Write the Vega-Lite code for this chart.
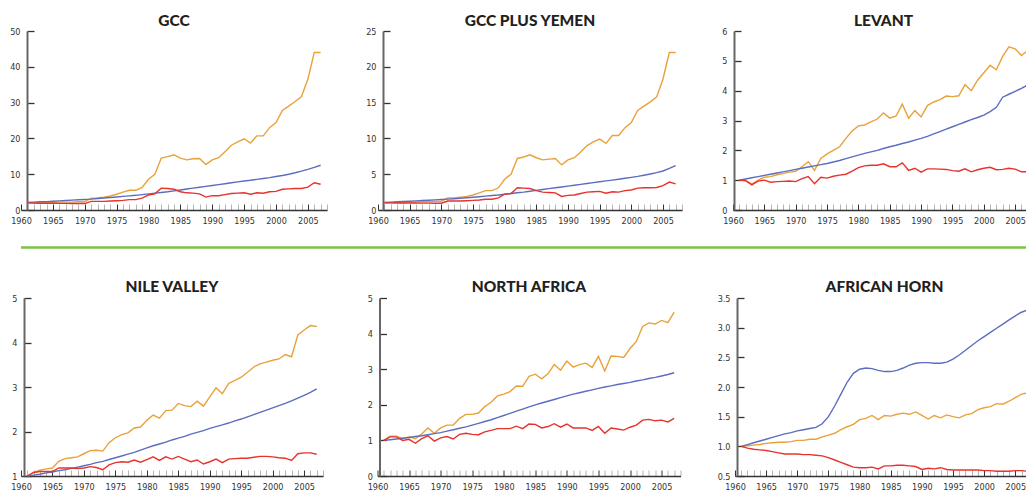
{
  "$schema": "https://vega.github.io/schema/vega-lite/v6.json",
  "background": "white",
  "padding": {"left": 9, "top": 13, "right": 0, "bottom": 0},
  "config": {
    "view": {"stroke": null},
    "title": {"font": "Lato", "fontWeight": 900, "fontSize": 15.5, "color": "#231f20", "anchor": "middle"},
    "axisX": {"grid": false, "tickSize": -6, "labelPadding": 12, "labelFlush": false, "labelOverlap": false, "domainColor": "#333333", "domainWidth": 1.5, "labelFont": "Liberation Sans Narrow, DejaVu Sans Condensed, sans-serif", "labelFontSize": 9, "labelColor": "#333333", "tickWidth": 1},
    "axisY": {"grid": false, "tickSize": -7, "labelPadding": 14, "labelFlush": false, "labelOverlap": false, "domainColor": "#666666", "domainWidth": 2, "tickColor": "#333333", "tickWidth": 1.3, "labelFont": "Liberation Sans Narrow, DejaVu Sans Condensed, sans-serif", "labelFontSize": 9, "labelColor": "#333333"}
  },
  "datasets": {
    "d": [
      {"region":"GCC","year":1961,"orange":2.0,"blue":2.1,"red":2.0},
      {"region":"GCC","year":1962,"orange":2.0,"blue":2.2,"red":1.95},
      {"region":"GCC","year":1963,"orange":2.0,"blue":2.3,"red":1.9},
      {"region":"GCC","year":1964,"orange":2.1,"blue":2.35,"red":1.9},
      {"region":"GCC","year":1965,"orange":2.1,"blue":2.45,"red":1.9},
      {"region":"GCC","year":1966,"orange":2.2,"blue":2.55,"red":1.85},
      {"region":"GCC","year":1967,"orange":2.2,"blue":2.65,"red":1.85},
      {"region":"GCC","year":1968,"orange":2.2,"blue":2.75,"red":1.8},
      {"region":"GCC","year":1969,"orange":2.3,"blue":2.85,"red":1.8},
      {"region":"GCC","year":1970,"orange":2.3,"blue":2.95,"red":1.8},
      {"region":"GCC","year":1971,"orange":3.3,"blue":3.05,"red":2.4},
      {"region":"GCC","year":1972,"orange":3.4,"blue":3.2,"red":2.4},
      {"region":"GCC","year":1973,"orange":3.6,"blue":3.35,"red":2.4},
      {"region":"GCC","year":1974,"orange":3.9,"blue":3.5,"red":2.5},
      {"region":"GCC","year":1975,"orange":4.4,"blue":3.65,"red":2.6},
      {"region":"GCC","year":1976,"orange":5.0,"blue":3.8,"red":2.7},
      {"region":"GCC","year":1977,"orange":5.5,"blue":3.95,"red":2.9},
      {"region":"GCC","year":1978,"orange":5.5,"blue":4.1,"red":2.9},
      {"region":"GCC","year":1979,"orange":6.3,"blue":4.3,"red":3.3},
      {"region":"GCC","year":1980,"orange":8.6,"blue":4.5,"red":4.2},
      {"region":"GCC","year":1981,"orange":10.0,"blue":4.7,"red":4.5},
      {"region":"GCC","year":1982,"orange":14.5,"blue":4.9,"red":6.1},
      {"region":"GCC","year":1983,"orange":14.9,"blue":5.1,"red":6.0},
      {"region":"GCC","year":1984,"orange":15.4,"blue":5.35,"red":5.8},
      {"region":"GCC","year":1985,"orange":14.5,"blue":5.6,"red":5.1},
      {"region":"GCC","year":1986,"orange":14.0,"blue":5.85,"red":4.8},
      {"region":"GCC","year":1987,"orange":14.3,"blue":6.1,"red":4.7},
      {"region":"GCC","year":1988,"orange":14.4,"blue":6.35,"red":4.5},
      {"region":"GCC","year":1989,"orange":12.7,"blue":6.6,"red":3.6},
      {"region":"GCC","year":1990,"orange":14.0,"blue":6.85,"red":4.0},
      {"region":"GCC","year":1991,"orange":14.6,"blue":7.1,"red":4.0},
      {"region":"GCC","year":1992,"orange":16.3,"blue":7.35,"red":4.3},
      {"region":"GCC","year":1993,"orange":18.1,"blue":7.6,"red":4.6},
      {"region":"GCC","year":1994,"orange":19.0,"blue":7.85,"red":4.7},
      {"region":"GCC","year":1995,"orange":19.9,"blue":8.1,"red":4.8},
      {"region":"GCC","year":1996,"orange":18.7,"blue":8.3,"red":4.4},
      {"region":"GCC","year":1997,"orange":20.7,"blue":8.55,"red":4.8},
      {"region":"GCC","year":1998,"orange":20.7,"blue":8.8,"red":4.7},
      {"region":"GCC","year":1999,"orange":23.0,"blue":9.05,"red":5.1},
      {"region":"GCC","year":2000,"orange":24.4,"blue":9.35,"red":5.2},
      {"region":"GCC","year":2001,"orange":27.8,"blue":9.65,"red":5.8},
      {"region":"GCC","year":2002,"orange":29.0,"blue":10.0,"red":5.9},
      {"region":"GCC","year":2003,"orange":30.3,"blue":10.4,"red":6.0},
      {"region":"GCC","year":2004,"orange":31.7,"blue":10.85,"red":6.0},
      {"region":"GCC","year":2005,"orange":36.5,"blue":11.35,"red":6.4},
      {"region":"GCC","year":2006,"orange":44.0,"blue":11.9,"red":7.6},
      {"region":"GCC","year":2007,"orange":44.0,"blue":12.5,"red":7.2},

      {"region":"GCCY","year":1961,"orange":1.0,"blue":1.05,"red":1.0},
      {"region":"GCCY","year":1962,"orange":1.0,"blue":1.1,"red":1.0},
      {"region":"GCCY","year":1963,"orange":1.05,"blue":1.15,"red":0.98},
      {"region":"GCCY","year":1964,"orange":1.05,"blue":1.18,"red":0.98},
      {"region":"GCCY","year":1965,"orange":1.1,"blue":1.22,"red":0.97},
      {"region":"GCCY","year":1966,"orange":1.1,"blue":1.27,"red":0.97},
      {"region":"GCCY","year":1967,"orange":1.15,"blue":1.32,"red":0.96},
      {"region":"GCCY","year":1968,"orange":1.15,"blue":1.37,"red":0.96},
      {"region":"GCCY","year":1969,"orange":1.2,"blue":1.42,"red":0.95},
      {"region":"GCCY","year":1970,"orange":1.2,"blue":1.47,"red":0.95},
      {"region":"GCCY","year":1971,"orange":1.7,"blue":1.52,"red":1.25},
      {"region":"GCCY","year":1972,"orange":1.7,"blue":1.58,"red":1.25},
      {"region":"GCCY","year":1973,"orange":1.8,"blue":1.65,"red":1.25},
      {"region":"GCCY","year":1974,"orange":1.9,"blue":1.72,"red":1.3},
      {"region":"GCCY","year":1975,"orange":2.1,"blue":1.79,"red":1.35},
      {"region":"GCCY","year":1976,"orange":2.4,"blue":1.86,"red":1.4},
      {"region":"GCCY","year":1977,"orange":2.7,"blue":1.94,"red":1.5},
      {"region":"GCCY","year":1978,"orange":2.7,"blue":2.02,"red":1.5},
      {"region":"GCCY","year":1979,"orange":3.1,"blue":2.1,"red":1.7},
      {"region":"GCCY","year":1980,"orange":4.3,"blue":2.2,"red":2.2},
      {"region":"GCCY","year":1981,"orange":5.0,"blue":2.3,"red":2.3},
      {"region":"GCCY","year":1982,"orange":7.2,"blue":2.4,"red":3.1},
      {"region":"GCCY","year":1983,"orange":7.4,"blue":2.5,"red":3.05},
      {"region":"GCCY","year":1984,"orange":7.7,"blue":2.62,"red":3.0},
      {"region":"GCCY","year":1985,"orange":7.3,"blue":2.74,"red":2.7},
      {"region":"GCCY","year":1986,"orange":7.0,"blue":2.86,"red":2.5},
      {"region":"GCCY","year":1987,"orange":7.1,"blue":2.98,"red":2.45},
      {"region":"GCCY","year":1988,"orange":7.2,"blue":3.1,"red":2.4},
      {"region":"GCCY","year":1989,"orange":6.3,"blue":3.22,"red":1.9},
      {"region":"GCCY","year":1990,"orange":7.0,"blue":3.34,"red":2.05},
      {"region":"GCCY","year":1991,"orange":7.3,"blue":3.46,"red":2.1},
      {"region":"GCCY","year":1992,"orange":8.1,"blue":3.58,"red":2.3},
      {"region":"GCCY","year":1993,"orange":9.0,"blue":3.7,"red":2.5},
      {"region":"GCCY","year":1994,"orange":9.5,"blue":3.82,"red":2.55},
      {"region":"GCCY","year":1995,"orange":9.9,"blue":3.94,"red":2.6},
      {"region":"GCCY","year":1996,"orange":9.3,"blue":4.06,"red":2.35},
      {"region":"GCCY","year":1997,"orange":10.4,"blue":4.18,"red":2.55},
      {"region":"GCCY","year":1998,"orange":10.4,"blue":4.3,"red":2.5},
      {"region":"GCCY","year":1999,"orange":11.5,"blue":4.43,"red":2.7},
      {"region":"GCCY","year":2000,"orange":12.2,"blue":4.56,"red":2.8},
      {"region":"GCCY","year":2001,"orange":13.9,"blue":4.7,"red":3.05},
      {"region":"GCCY","year":2002,"orange":14.5,"blue":4.86,"red":3.1},
      {"region":"GCCY","year":2003,"orange":15.1,"blue":5.03,"red":3.1},
      {"region":"GCCY","year":2004,"orange":15.8,"blue":5.22,"red":3.15},
      {"region":"GCCY","year":2005,"orange":18.3,"blue":5.45,"red":3.4},
      {"region":"GCCY","year":2006,"orange":22.0,"blue":5.8,"red":3.9},
      {"region":"GCCY","year":2007,"orange":22.0,"blue":6.2,"red":3.65},

      {"region":"LEV","year":1961,"orange":1.0,"blue":1.0,"red":1.0},
      {"region":"LEV","year":1962,"orange":1.0,"blue":1.04,"red":0.98},
      {"region":"LEV","year":1963,"orange":0.87,"blue":1.08,"red":0.84},
      {"region":"LEV","year":1964,"orange":1.0,"blue":1.12,"red":0.97},
      {"region":"LEV","year":1965,"orange":1.1,"blue":1.16,"red":1.0},
      {"region":"LEV","year":1966,"orange":1.12,"blue":1.2,"red":0.93},
      {"region":"LEV","year":1967,"orange":1.18,"blue":1.24,"red":0.95},
      {"region":"LEV","year":1968,"orange":1.22,"blue":1.28,"red":0.96},
      {"region":"LEV","year":1969,"orange":1.27,"blue":1.32,"red":0.97},
      {"region":"LEV","year":1970,"orange":1.3,"blue":1.36,"red":0.95},
      {"region":"LEV","year":1971,"orange":1.45,"blue":1.4,"red":1.05},
      {"region":"LEV","year":1972,"orange":1.62,"blue":1.44,"red":1.12},
      {"region":"LEV","year":1973,"orange":1.33,"blue":1.48,"red":0.88},
      {"region":"LEV","year":1974,"orange":1.73,"blue":1.52,"red":1.1},
      {"region":"LEV","year":1975,"orange":1.88,"blue":1.56,"red":1.07},
      {"region":"LEV","year":1976,"orange":2.0,"blue":1.61,"red":1.13},
      {"region":"LEV","year":1977,"orange":2.12,"blue":1.66,"red":1.17},
      {"region":"LEV","year":1978,"orange":2.4,"blue":1.72,"red":1.2},
      {"region":"LEV","year":1979,"orange":2.65,"blue":1.78,"red":1.3},
      {"region":"LEV","year":1980,"orange":2.82,"blue":1.84,"red":1.42},
      {"region":"LEV","year":1981,"orange":2.85,"blue":1.9,"red":1.48},
      {"region":"LEV","year":1982,"orange":2.95,"blue":1.95,"red":1.5},
      {"region":"LEV","year":1983,"orange":3.05,"blue":2.0,"red":1.5},
      {"region":"LEV","year":1984,"orange":3.25,"blue":2.06,"red":1.55},
      {"region":"LEV","year":1985,"orange":3.08,"blue":2.12,"red":1.45},
      {"region":"LEV","year":1986,"orange":3.15,"blue":2.17,"red":1.45},
      {"region":"LEV","year":1987,"orange":3.55,"blue":2.23,"red":1.58},
      {"region":"LEV","year":1988,"orange":3.08,"blue":2.28,"red":1.33},
      {"region":"LEV","year":1989,"orange":3.33,"blue":2.34,"red":1.4},
      {"region":"LEV","year":1990,"orange":3.12,"blue":2.4,"red":1.27},
      {"region":"LEV","year":1991,"orange":3.5,"blue":2.47,"red":1.38},
      {"region":"LEV","year":1992,"orange":3.62,"blue":2.55,"red":1.38},
      {"region":"LEV","year":1993,"orange":3.7,"blue":2.63,"red":1.37},
      {"region":"LEV","year":1994,"orange":3.82,"blue":2.71,"red":1.36},
      {"region":"LEV","year":1995,"orange":3.8,"blue":2.79,"red":1.32},
      {"region":"LEV","year":1996,"orange":3.83,"blue":2.87,"red":1.3},
      {"region":"LEV","year":1997,"orange":4.2,"blue":2.95,"red":1.38},
      {"region":"LEV","year":1998,"orange":4.0,"blue":3.03,"red":1.28},
      {"region":"LEV","year":1999,"orange":4.35,"blue":3.1,"red":1.35},
      {"region":"LEV","year":2000,"orange":4.6,"blue":3.18,"red":1.4},
      {"region":"LEV","year":2001,"orange":4.85,"blue":3.3,"red":1.43},
      {"region":"LEV","year":2002,"orange":4.7,"blue":3.44,"red":1.35},
      {"region":"LEV","year":2003,"orange":5.15,"blue":3.78,"red":1.36},
      {"region":"LEV","year":2004,"orange":5.47,"blue":3.88,"red":1.4},
      {"region":"LEV","year":2005,"orange":5.4,"blue":3.98,"red":1.37},
      {"region":"LEV","year":2006,"orange":5.18,"blue":4.08,"red":1.28},
      {"region":"LEV","year":2007,"orange":5.35,"blue":4.19,"red":1.28},

      {"region":"NILE","year":1961,"orange":1.0,"blue":1.0,"red":1.0},
      {"region":"NILE","year":1962,"orange":1.08,"blue":1.02,"red":1.08},
      {"region":"NILE","year":1963,"orange":1.13,"blue":1.04,"red":1.1},
      {"region":"NILE","year":1964,"orange":1.16,"blue":1.07,"red":1.1},
      {"region":"NILE","year":1965,"orange":1.18,"blue":1.09,"red":1.1},
      {"region":"NILE","year":1966,"orange":1.33,"blue":1.12,"red":1.18},
      {"region":"NILE","year":1967,"orange":1.39,"blue":1.14,"red":1.18},
      {"region":"NILE","year":1968,"orange":1.41,"blue":1.17,"red":1.18},
      {"region":"NILE","year":1969,"orange":1.43,"blue":1.2,"red":1.17},
      {"region":"NILE","year":1970,"orange":1.5,"blue":1.23,"red":1.18},
      {"region":"NILE","year":1971,"orange":1.57,"blue":1.26,"red":1.21},
      {"region":"NILE","year":1972,"orange":1.58,"blue":1.3,"red":1.19},
      {"region":"NILE","year":1973,"orange":1.56,"blue":1.33,"red":1.14},
      {"region":"NILE","year":1974,"orange":1.75,"blue":1.37,"red":1.25},
      {"region":"NILE","year":1975,"orange":1.86,"blue":1.41,"red":1.3},
      {"region":"NILE","year":1976,"orange":1.93,"blue":1.45,"red":1.32},
      {"region":"NILE","year":1977,"orange":1.97,"blue":1.49,"red":1.31},
      {"region":"NILE","year":1978,"orange":2.08,"blue":1.53,"red":1.36},
      {"region":"NILE","year":1979,"orange":2.1,"blue":1.58,"red":1.31},
      {"region":"NILE","year":1980,"orange":2.25,"blue":1.63,"red":1.37},
      {"region":"NILE","year":1981,"orange":2.37,"blue":1.68,"red":1.43},
      {"region":"NILE","year":1982,"orange":2.3,"blue":1.72,"red":1.35},
      {"region":"NILE","year":1983,"orange":2.47,"blue":1.76,"red":1.43},
      {"region":"NILE","year":1984,"orange":2.48,"blue":1.81,"red":1.38},
      {"region":"NILE","year":1985,"orange":2.63,"blue":1.85,"red":1.44},
      {"region":"NILE","year":1986,"orange":2.58,"blue":1.89,"red":1.38},
      {"region":"NILE","year":1987,"orange":2.56,"blue":1.94,"red":1.32},
      {"region":"NILE","year":1988,"orange":2.68,"blue":1.98,"red":1.36},
      {"region":"NILE","year":1989,"orange":2.57,"blue":2.02,"red":1.27},
      {"region":"NILE","year":1990,"orange":2.78,"blue":2.07,"red":1.32},
      {"region":"NILE","year":1991,"orange":2.98,"blue":2.11,"red":1.38},
      {"region":"NILE","year":1992,"orange":2.85,"blue":2.15,"red":1.3},
      {"region":"NILE","year":1993,"orange":3.08,"blue":2.19,"red":1.38},
      {"region":"NILE","year":1994,"orange":3.15,"blue":2.24,"red":1.39},
      {"region":"NILE","year":1995,"orange":3.22,"blue":2.28,"red":1.4},
      {"region":"NILE","year":1996,"orange":3.33,"blue":2.33,"red":1.4},
      {"region":"NILE","year":1997,"orange":3.45,"blue":2.38,"red":1.42},
      {"region":"NILE","year":1998,"orange":3.52,"blue":2.43,"red":1.44},
      {"region":"NILE","year":1999,"orange":3.56,"blue":2.48,"red":1.44},
      {"region":"NILE","year":2000,"orange":3.6,"blue":2.53,"red":1.43},
      {"region":"NILE","year":2001,"orange":3.63,"blue":2.58,"red":1.41},
      {"region":"NILE","year":2002,"orange":3.73,"blue":2.63,"red":1.4},
      {"region":"NILE","year":2003,"orange":3.68,"blue":2.69,"red":1.35},
      {"region":"NILE","year":2004,"orange":4.17,"blue":2.75,"red":1.5},
      {"region":"NILE","year":2005,"orange":4.28,"blue":2.81,"red":1.52},
      {"region":"NILE","year":2006,"orange":4.38,"blue":2.88,"red":1.52},
      {"region":"NILE","year":2007,"orange":4.36,"blue":2.96,"red":1.49},

      {"region":"NAF","year":1961,"orange":1.0,"blue":1.0,"red":1.0},
      {"region":"NAF","year":1962,"orange":1.12,"blue":1.02,"red":1.1},
      {"region":"NAF","year":1963,"orange":1.12,"blue":1.04,"red":1.1},
      {"region":"NAF","year":1964,"orange":1.05,"blue":1.06,"red":1.0},
      {"region":"NAF","year":1965,"orange":1.1,"blue":1.08,"red":1.03},
      {"region":"NAF","year":1966,"orange":1.05,"blue":1.11,"red":0.92},
      {"region":"NAF","year":1967,"orange":1.18,"blue":1.13,"red":1.05},
      {"region":"NAF","year":1968,"orange":1.35,"blue":1.16,"red":1.13},
      {"region":"NAF","year":1969,"orange":1.2,"blue":1.19,"red":0.98},
      {"region":"NAF","year":1970,"orange":1.35,"blue":1.22,"red":1.07},
      {"region":"NAF","year":1971,"orange":1.43,"blue":1.26,"red":1.11},
      {"region":"NAF","year":1972,"orange":1.43,"blue":1.3,"red":1.04},
      {"region":"NAF","year":1973,"orange":1.62,"blue":1.34,"red":1.17},
      {"region":"NAF","year":1974,"orange":1.73,"blue":1.38,"red":1.2},
      {"region":"NAF","year":1975,"orange":1.73,"blue":1.43,"red":1.17},
      {"region":"NAF","year":1976,"orange":1.77,"blue":1.48,"red":1.16},
      {"region":"NAF","year":1977,"orange":1.95,"blue":1.53,"red":1.24},
      {"region":"NAF","year":1978,"orange":2.07,"blue":1.58,"red":1.28},
      {"region":"NAF","year":1979,"orange":2.25,"blue":1.64,"red":1.33},
      {"region":"NAF","year":1980,"orange":2.3,"blue":1.7,"red":1.33},
      {"region":"NAF","year":1981,"orange":2.37,"blue":1.76,"red":1.33},
      {"region":"NAF","year":1982,"orange":2.53,"blue":1.82,"red":1.4},
      {"region":"NAF","year":1983,"orange":2.52,"blue":1.88,"red":1.33},
      {"region":"NAF","year":1984,"orange":2.8,"blue":1.94,"red":1.46},
      {"region":"NAF","year":1985,"orange":2.86,"blue":2.0,"red":1.45},
      {"region":"NAF","year":1986,"orange":2.73,"blue":2.05,"red":1.35},
      {"region":"NAF","year":1987,"orange":2.87,"blue":2.1,"red":1.39},
      {"region":"NAF","year":1988,"orange":3.13,"blue":2.15,"red":1.47},
      {"region":"NAF","year":1989,"orange":2.97,"blue":2.2,"red":1.37},
      {"region":"NAF","year":1990,"orange":3.23,"blue":2.25,"red":1.46},
      {"region":"NAF","year":1991,"orange":3.06,"blue":2.3,"red":1.35},
      {"region":"NAF","year":1992,"orange":3.13,"blue":2.34,"red":1.35},
      {"region":"NAF","year":1993,"orange":3.17,"blue":2.38,"red":1.35},
      {"region":"NAF","year":1994,"orange":3.05,"blue":2.42,"red":1.28},
      {"region":"NAF","year":1995,"orange":3.36,"blue":2.46,"red":1.39},
      {"region":"NAF","year":1996,"orange":2.95,"blue":2.5,"red":1.2},
      {"region":"NAF","year":1997,"orange":3.37,"blue":2.53,"red":1.35},
      {"region":"NAF","year":1998,"orange":3.36,"blue":2.57,"red":1.32},
      {"region":"NAF","year":1999,"orange":3.33,"blue":2.6,"red":1.29},
      {"region":"NAF","year":2000,"orange":3.58,"blue":2.63,"red":1.37},
      {"region":"NAF","year":2001,"orange":3.78,"blue":2.67,"red":1.43},
      {"region":"NAF","year":2002,"orange":4.2,"blue":2.7,"red":1.57},
      {"region":"NAF","year":2003,"orange":4.3,"blue":2.74,"red":1.59},
      {"region":"NAF","year":2004,"orange":4.27,"blue":2.77,"red":1.55},
      {"region":"NAF","year":2005,"orange":4.37,"blue":2.81,"red":1.57},
      {"region":"NAF","year":2006,"orange":4.31,"blue":2.85,"red":1.52},
      {"region":"NAF","year":2007,"orange":4.6,"blue":2.9,"red":1.62},

      {"region":"AH","year":1961,"orange":1.0,"blue":1.0,"red":1.0},
      {"region":"AH","year":1962,"orange":1.01,"blue":1.03,"red":0.97},
      {"region":"AH","year":1963,"orange":1.02,"blue":1.06,"red":0.95},
      {"region":"AH","year":1964,"orange":1.03,"blue":1.09,"red":0.94},
      {"region":"AH","year":1965,"orange":1.05,"blue":1.12,"red":0.93},
      {"region":"AH","year":1966,"orange":1.06,"blue":1.15,"red":0.91},
      {"region":"AH","year":1967,"orange":1.07,"blue":1.18,"red":0.89},
      {"region":"AH","year":1968,"orange":1.07,"blue":1.21,"red":0.87},
      {"region":"AH","year":1969,"orange":1.08,"blue":1.23,"red":0.87},
      {"region":"AH","year":1970,"orange":1.1,"blue":1.26,"red":0.87},
      {"region":"AH","year":1971,"orange":1.1,"blue":1.28,"red":0.86},
      {"region":"AH","year":1972,"orange":1.12,"blue":1.3,"red":0.86},
      {"region":"AH","year":1973,"orange":1.12,"blue":1.32,"red":0.85},
      {"region":"AH","year":1974,"orange":1.16,"blue":1.38,"red":0.84},
      {"region":"AH","year":1975,"orange":1.19,"blue":1.5,"red":0.81},
      {"region":"AH","year":1976,"orange":1.22,"blue":1.68,"red":0.77},
      {"region":"AH","year":1977,"orange":1.28,"blue":1.88,"red":0.73},
      {"region":"AH","year":1978,"orange":1.33,"blue":2.08,"red":0.69},
      {"region":"AH","year":1979,"orange":1.37,"blue":2.23,"red":0.65},
      {"region":"AH","year":1980,"orange":1.45,"blue":2.3,"red":0.64},
      {"region":"AH","year":1981,"orange":1.47,"blue":2.32,"red":0.64},
      {"region":"AH","year":1982,"orange":1.52,"blue":2.31,"red":0.65},
      {"region":"AH","year":1983,"orange":1.45,"blue":2.28,"red":0.62},
      {"region":"AH","year":1984,"orange":1.52,"blue":2.26,"red":0.67},
      {"region":"AH","year":1985,"orange":1.51,"blue":2.26,"red":0.67},
      {"region":"AH","year":1986,"orange":1.54,"blue":2.28,"red":0.68},
      {"region":"AH","year":1987,"orange":1.56,"blue":2.32,"red":0.68},
      {"region":"AH","year":1988,"orange":1.54,"blue":2.37,"red":0.67},
      {"region":"AH","year":1989,"orange":1.58,"blue":2.4,"red":0.66},
      {"region":"AH","year":1990,"orange":1.52,"blue":2.41,"red":0.61},
      {"region":"AH","year":1991,"orange":1.46,"blue":2.41,"red":0.63},
      {"region":"AH","year":1992,"orange":1.52,"blue":2.4,"red":0.62},
      {"region":"AH","year":1993,"orange":1.48,"blue":2.4,"red":0.64},
      {"region":"AH","year":1994,"orange":1.53,"blue":2.42,"red":0.61},
      {"region":"AH","year":1995,"orange":1.5,"blue":2.47,"red":0.6},
      {"region":"AH","year":1996,"orange":1.48,"blue":2.54,"red":0.6},
      {"region":"AH","year":1997,"orange":1.53,"blue":2.62,"red":0.6},
      {"region":"AH","year":1998,"orange":1.55,"blue":2.7,"red":0.6},
      {"region":"AH","year":1999,"orange":1.62,"blue":2.78,"red":0.6},
      {"region":"AH","year":2000,"orange":1.65,"blue":2.85,"red":0.59},
      {"region":"AH","year":2001,"orange":1.67,"blue":2.92,"red":0.59},
      {"region":"AH","year":2002,"orange":1.72,"blue":2.99,"red":0.58},
      {"region":"AH","year":2003,"orange":1.71,"blue":3.06,"red":0.58},
      {"region":"AH","year":2004,"orange":1.76,"blue":3.13,"red":0.58},
      {"region":"AH","year":2005,"orange":1.82,"blue":3.2,"red":0.59},
      {"region":"AH","year":2006,"orange":1.88,"blue":3.26,"red":0.59},
      {"region":"AH","year":2007,"orange":1.9,"blue":3.3,"red":0.58}
    ]
  },
  "vconcat": [
    {
      "hconcat": [
        {
          "title": {"text": "GCC", "offset": -2},
          "width": 306, "height": 179,
          "data": {"name": "d"},
          "transform": [{"filter": "datum.region === 'GCC'"}, {"fold": ["orange", "blue", "red"], "as": ["series", "value"]}],
          "mark": {"type": "line", "strokeWidth": 1.4},
          "encoding": {
            "x": {"field": "year", "type": "quantitative", "scale": {"domain": [1960, 2008], "nice": false, "zero": false},
              "axis": {"title": null, "format": "d", "values": [1960,1961,1962,1963,1964,1965,1966,1967,1968,1969,1970,1971,1972,1973,1974,1975,1976,1977,1978,1979,1980,1981,1982,1983,1984,1985,1986,1987,1988,1989,1990,1991,1992,1993,1994,1995,1996,1997,1998,1999,2000,2001,2002,2003,2004,2005,2006,2007,2008], "labelExpr": "datum.value % 5 === 0 ? datum.label : ''", "tickColor": {"condition": {"test": "datum.value % 5 === 0", "value": "#333333"}, "value": "#b5b5b5"}}},
            "y": {"field": "value", "type": "quantitative", "scale": {"domain": [0, 50], "nice": false, "zero": false},
              "axis": {"title": null, "values": [0, 10, 20, 30, 40, 50], "offset": -6}},
            "color": {"field": "series", "type": "nominal", "scale": {"domain": ["orange", "blue", "red"], "range": ["#e8a23a", "#5b6dbf", "#e8322c"]}, "legend": null}
          }
        },
        {
          "title": {"text": "GCC PLUS YEMEN", "offset": -2},
          "width": 304, "height": 179,
          "data": {"name": "d"},
          "transform": [{"filter": "datum.region === 'GCCY'"}, {"fold": ["orange", "blue", "red"], "as": ["series", "value"]}],
          "mark": {"type": "line", "strokeWidth": 1.4},
          "encoding": {
            "x": {"field": "year", "type": "quantitative", "scale": {"domain": [1960, 2008], "nice": false, "zero": false},
              "axis": {"title": null, "format": "d", "values": [1960,1961,1962,1963,1964,1965,1966,1967,1968,1969,1970,1971,1972,1973,1974,1975,1976,1977,1978,1979,1980,1981,1982,1983,1984,1985,1986,1987,1988,1989,1990,1991,1992,1993,1994,1995,1996,1997,1998,1999,2000,2001,2002,2003,2004,2005,2006,2007,2008], "labelExpr": "datum.value % 5 === 0 ? datum.label : ''", "tickColor": {"condition": {"test": "datum.value % 5 === 0", "value": "#333333"}, "value": "#b5b5b5"}}},
            "y": {"field": "value", "type": "quantitative", "scale": {"domain": [0, 25], "nice": false, "zero": false},
              "axis": {"title": null, "values": [0, 5, 10, 15, 20, 25], "offset": -5}},
            "color": {"field": "series", "type": "nominal", "scale": {"domain": ["orange", "blue", "red"], "range": ["#e8a23a", "#5b6dbf", "#e8322c"]}, "legend": null}
          }
        },
        {
          "title": {"text": "LEVANT", "offset": -2},
          "width": 301, "height": 179,
          "data": {"name": "d"},
          "transform": [{"filter": "datum.region === 'LEV'"}, {"fold": ["orange", "blue", "red"], "as": ["series", "value"]}],
          "mark": {"type": "line", "strokeWidth": 1.4},
          "encoding": {
            "x": {"field": "year", "type": "quantitative", "scale": {"domain": [1960, 2008], "nice": false, "zero": false},
              "axis": {"title": null, "format": "d", "values": [1960,1961,1962,1963,1964,1965,1966,1967,1968,1969,1970,1971,1972,1973,1974,1975,1976,1977,1978,1979,1980,1981,1982,1983,1984,1985,1986,1987,1988,1989,1990,1991,1992,1993,1994,1995,1996,1997,1998,1999,2000,2001,2002,2003,2004,2005,2006,2007,2008], "labelExpr": "datum.value % 5 === 0 ? datum.label : ''", "tickColor": {"condition": {"test": "datum.value % 5 === 0", "value": "#333333"}, "value": "#b5b5b5"}}},
            "y": {"field": "value", "type": "quantitative", "scale": {"domain": [0, 6], "nice": false, "zero": false},
              "axis": {"title": null, "values": [0, 1, 2, 3, 4, 5, 6], "offset": -1}},
            "color": {"field": "series", "type": "nominal", "scale": {"domain": ["orange", "blue", "red"], "range": ["#e8a23a", "#5b6dbf", "#e8322c"]}, "legend": null}
          }
        }
      ],
      "spacing": 51,
      "bounds": "flush"
    },
    {
      "width": 1040, "height": 11,
      "data": {"values": [{"sep": 1}]},
      "mark": {"type": "rule", "color": "#7dc242", "strokeWidth": 2.5},
      "encoding": {"y": {"field": "sep", "type": "quantitative", "scale": {"domain": [0, 1]}, "axis": null}}
    },
    {
      "hconcat": [
        {
          "title": {"text": "NILE VALLEY", "offset": -1},
          "width": 302, "height": 178,
          "data": {"name": "d"},
          "transform": [{"filter": "datum.region === 'NILE'"}, {"fold": ["orange", "blue", "red"], "as": ["series", "value"]}],
          "mark": {"type": "line", "strokeWidth": 1.4},
          "encoding": {
            "x": {"field": "year", "type": "quantitative", "scale": {"domain": [1960, 2008], "nice": false, "zero": false},
              "axis": {"title": null, "format": "d", "values": [1960,1961,1962,1963,1964,1965,1966,1967,1968,1969,1970,1971,1972,1973,1974,1975,1976,1977,1978,1979,1980,1981,1982,1983,1984,1985,1986,1987,1988,1989,1990,1991,1992,1993,1994,1995,1996,1997,1998,1999,2000,2001,2002,2003,2004,2005,2006,2007,2008], "labelExpr": "datum.value % 5 === 0 ? datum.label : ''", "tickColor": {"condition": {"test": "datum.value % 5 === 0", "value": "#333333"}, "value": "#b5b5b5"}}},
            "y": {"field": "value", "type": "quantitative", "scale": {"domain": [1, 5], "nice": false, "zero": false},
              "axis": {"title": null, "values": [1, 2, 3, 4, 5], "offset": -3}},
            "color": {"field": "series", "type": "nominal", "scale": {"domain": ["orange", "blue", "red"], "range": ["#e8a23a", "#5b6dbf", "#e8322c"]}, "legend": null}
          }
        },
        {
          "title": {"text": "NORTH AFRICA", "offset": -1},
          "width": 303, "height": 178,
          "data": {"name": "d"},
          "transform": [{"filter": "datum.region === 'NAF'"}, {"fold": ["orange", "blue", "red"], "as": ["series", "value"]}],
          "mark": {"type": "line", "strokeWidth": 1.4},
          "encoding": {
            "x": {"field": "year", "type": "quantitative", "scale": {"domain": [1960, 2008], "nice": false, "zero": false},
              "axis": {"title": null, "format": "d", "values": [1960,1961,1962,1963,1964,1965,1966,1967,1968,1969,1970,1971,1972,1973,1974,1975,1976,1977,1978,1979,1980,1981,1982,1983,1984,1985,1986,1987,1988,1989,1990,1991,1992,1993,1994,1995,1996,1997,1998,1999,2000,2001,2002,2003,2004,2005,2006,2007,2008], "labelExpr": "datum.value % 5 === 0 ? datum.label : ''", "tickColor": {"condition": {"test": "datum.value % 5 === 0", "value": "#333333"}, "value": "#b5b5b5"}}},
            "y": {"field": "value", "type": "quantitative", "scale": {"domain": [0, 5], "nice": false, "zero": false},
              "axis": {"title": null, "values": [0, 1, 2, 3, 4, 5], "offset": -2}},
            "color": {"field": "series", "type": "nominal", "scale": {"domain": ["orange", "blue", "red"], "range": ["#e8a23a", "#5b6dbf", "#e8322c"]}, "legend": null}
          }
        },
        {
          "title": {"text": "AFRICAN HORN", "offset": -1},
          "width": 299, "height": 178,
          "data": {"name": "d"},
          "transform": [{"filter": "datum.region === 'AH'"}, {"fold": ["orange", "blue", "red"], "as": ["series", "value"]}],
          "mark": {"type": "line", "strokeWidth": 1.4},
          "encoding": {
            "x": {"field": "year", "type": "quantitative", "scale": {"domain": [1960, 2008], "nice": false, "zero": false},
              "axis": {"title": null, "format": "d", "values": [1960,1961,1962,1963,1964,1965,1966,1967,1968,1969,1970,1971,1972,1973,1974,1975,1976,1977,1978,1979,1980,1981,1982,1983,1984,1985,1986,1987,1988,1989,1990,1991,1992,1993,1994,1995,1996,1997,1998,1999,2000,2001,2002,2003,2004,2005,2006,2007,2008], "labelExpr": "datum.value % 5 === 0 ? datum.label : ''", "tickColor": {"condition": {"test": "datum.value % 5 === 0", "value": "#333333"}, "value": "#b5b5b5"}}},
            "y": {"field": "value", "type": "quantitative", "scale": {"domain": [0.5, 3.5], "nice": false, "zero": false},
              "axis": {"title": null, "values": [0.5, 1.0, 1.5, 2.0, 2.5, 3.0, 3.5], "format": ".1f", "offset": -2}},
            "color": {"field": "series", "type": "nominal", "scale": {"domain": ["orange", "blue", "red"], "range": ["#e8a23a", "#5b6dbf", "#e8322c"]}, "legend": null}
          }
        }
      ],
      "spacing": 54.5,
      "bounds": "flush"
    }
  ],
  "spacing": 20.5
}
